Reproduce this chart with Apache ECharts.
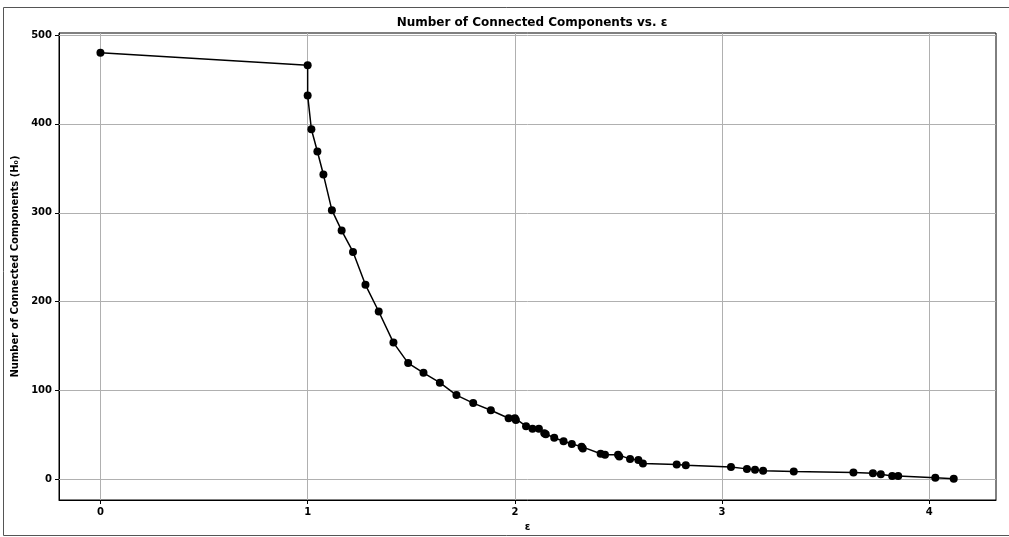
<!DOCTYPE html>
<html>
<head>
<meta charset="utf-8">
<script src="https://cdn.jsdelivr.net/npm/echarts@6/dist/echarts.min.js"></script>
<style>
  html, body { margin: 0; padding: 0; background: #fff; }
  #main { width: 1009px; height: 537px; }
</style>
</head>
<body>
<div id="main"></div>
<script>
// epsilon values and component counts
var eps = [0, 1.0, 1.0, 1.018, 1.047, 1.076, 1.117, 1.164, 1.219, 1.279, 1.343, 1.414,
  1.485, 1.559, 1.638, 1.718, 1.799, 1.884, 1.97, 2.0, 2.005, 2.054, 2.085, 2.116, 2.142,
  2.149, 2.19, 2.235, 2.275, 2.322, 2.328, 2.414, 2.435, 2.498, 2.504, 2.556, 2.596, 2.618,
  2.781, 2.825, 3.043, 3.12, 3.159, 3.198, 3.346, 3.634, 3.728, 3.766, 3.821, 3.85,
  4.029, 4.118];
var components = [480, 466, 432, 394, 369, 343, 303, 280, 256, 219, 189, 154,
  131, 120, 109, 95, 86, 78, 69, 69, 67, 60, 57, 57, 52,
  51, 47, 43, 40, 37, 35, 29, 28, 28, 26, 23, 22, 18,
  17, 16, 14, 12, 11, 10, 9, 8, 7, 6, 4, 4,
  2, 1];
var xTicks = [0, 1, 2, 3, 4];
var yTicks = [0, 100, 200, 300, 400, 500];

var points = eps.map(function (e, i) { return [e, components[i]]; });

var gridLines = [];
xTicks.forEach(function (v) { gridLines.push({ xAxis: v }); });
yTicks.forEach(function (v) { gridLines.push({ yAxis: v }); });

var font = 'DejaVu Sans';

var option = {
    animation: false,
    backgroundColor: '#fff',
    title: {
        text: 'Number of Connected Components vs. ε',
        left: 527,
        top: 12,
        textAlign: 'center',
        textStyle: { fontFamily: font, fontWeight: 'bold', fontSize: 12, color: '#000' }
    },
    graphic: [{
        type: 'rect',
        shape: { x: 3.5, y: 7.5, width: 1010, height: 528 },
        style: { fill: 'none', stroke: '#555', lineWidth: 1 },
        silent: true
    }],
    grid: { left: 59, right: 13, top: 33, bottom: 37, show: true, borderColor: '#000', borderWidth: 1, backgroundColor: 'transparent' },
    xAxis: {
        type: 'value',
        min: -0.2,
        max: 4.322,
        name: 'ε',
        nameLocation: 'middle',
        nameGap: 22,
        nameTextStyle: { fontFamily: font, fontWeight: 'bold', fontSize: 10, color: '#000' },
        axisLine: { show: true, onZero: false, lineStyle: { color: '#000', width: 1 } },
        axisTick: { show: true, customValues: xTicks, length: 4, lineStyle: { color: '#000' } },
        axisLabel: { customValues: xTicks, fontFamily: font, fontWeight: 'bold', fontSize: 10, color: '#000', margin: 7 },
        splitLine: { show: false }
    },
    yAxis: {
        type: 'value',
        min: -23,
        max: 502.2,
        name: 'Number of Connected Components (H₀)',
        nameLocation: 'middle',
        nameGap: 36,
        nameTextStyle: { fontFamily: font, fontWeight: 'bold', fontSize: 10, color: '#000' },
        axisLine: { show: true, onZero: false, lineStyle: { color: '#000', width: 1 } },
        axisTick: { show: true, customValues: yTicks, length: 4, lineStyle: { color: '#000' } },
        axisLabel: { customValues: yTicks, fontFamily: font, fontWeight: 'bold', fontSize: 10, color: '#000', margin: 7 },
        splitLine: { show: false }
    },
    series: [{
        type: 'line',
        data: points,
        symbol: 'circle',
        symbolSize: 8,
        itemStyle: { color: '#000' },
        lineStyle: { color: '#000', width: 1.5 },
        z: 3,
        markLine: {
            silent: true,
            symbol: 'none',
            label: { show: false },
            lineStyle: { color: '#b0b0b0', type: 'solid', width: 1 },
            emphasis: { disabled: true },
            data: gridLines,
            z: 1
        }
    }]
};

var myChart = echarts.init(document.getElementById('main'));
myChart.setOption(option);
</script>
</body>
</html>
